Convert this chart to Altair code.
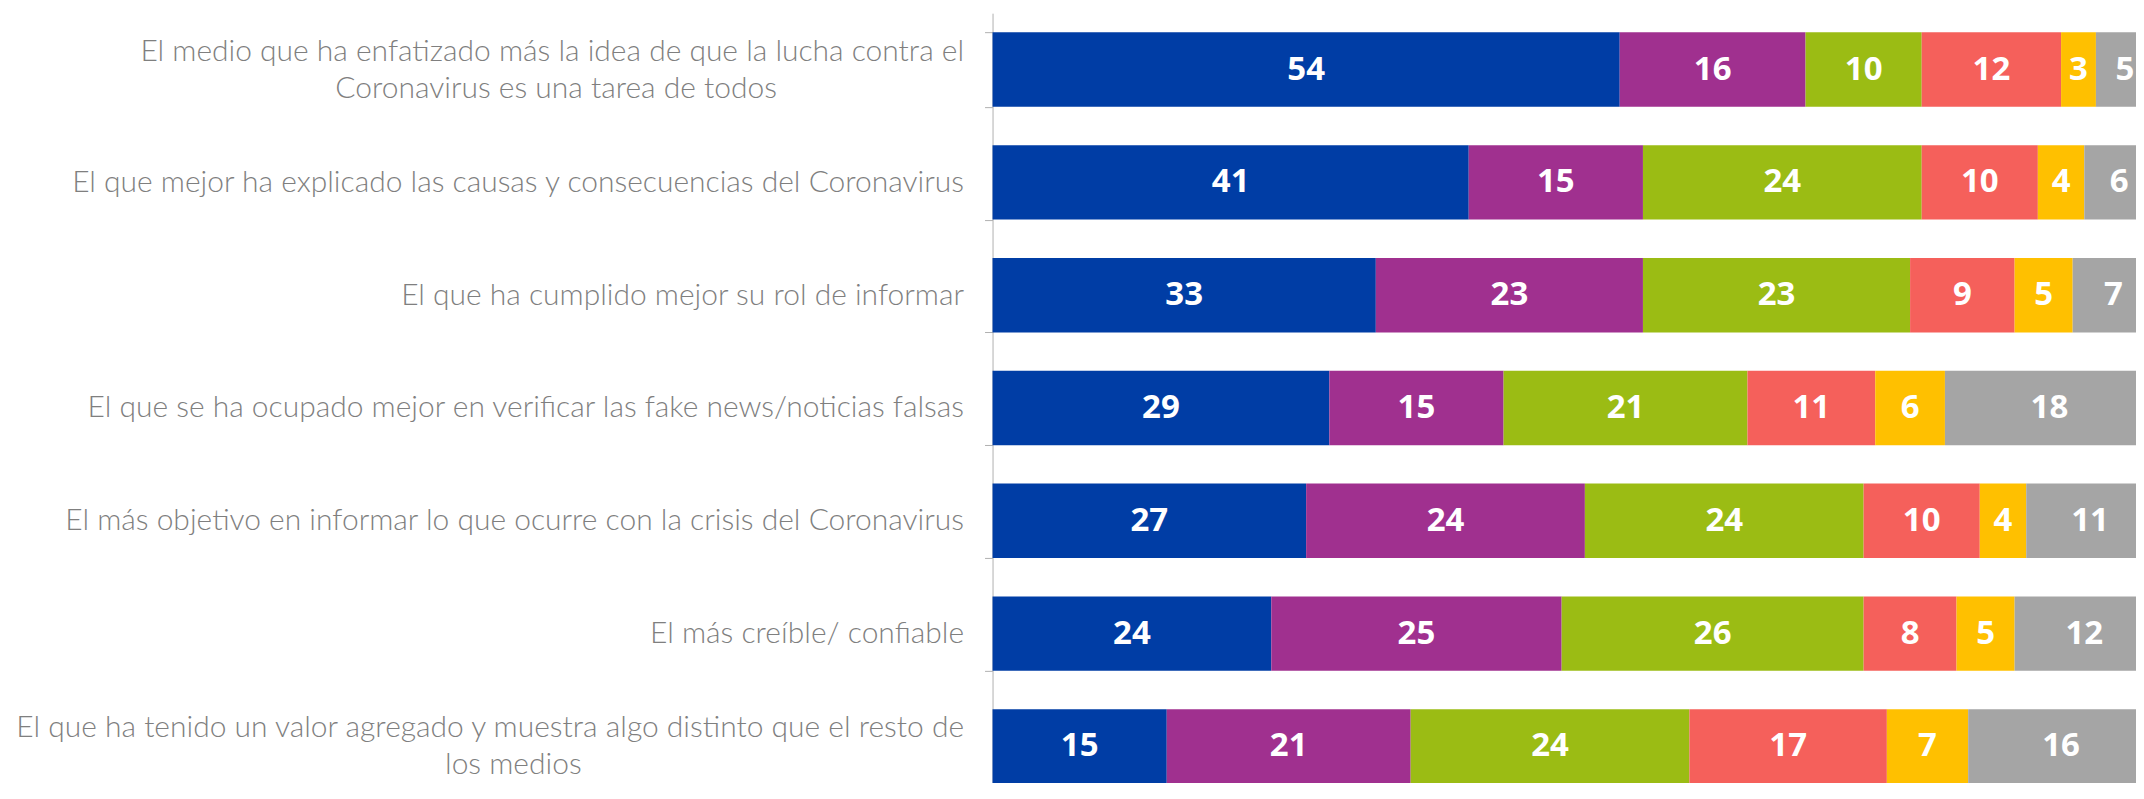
import altair as alt
import pandas as pd

categories = [
    "El medio que ha enfatizado más la idea de que la lucha contra el\nCoronavirus es una tarea de todos",
    "El que mejor ha explicado las causas y consecuencias del Coronavirus",
    "El que ha cumplido mejor su rol de informar",
    "El que se ha ocupado mejor en verificar las fake news/noticias falsas",
    "El más objetivo en informar lo que ocurre con la crisis del Coronavirus",
    "El más creíble/ confiable",
    "El que ha tenido un valor agregado y muestra algo distinto que el resto de\nlos medios",
]
series_names = ["Serie 1", "Serie 2", "Serie 3", "Serie 4", "Serie 5", "Serie 6"]
serie_1 = [54, 41, 33, 29, 27, 24, 15]
serie_2 = [16, 15, 23, 15, 24, 25, 21]
serie_3 = [10, 24, 23, 21, 24, 26, 24]
serie_4 = [12, 10, 9, 11, 10, 8, 17]
serie_5 = [3, 4, 5, 6, 4, 5, 7]
serie_6 = [5, 6, 7, 18, 11, 12, 16]
colors = ["#003da5", "#a0308f", "#9bbc14", "#f5605b", "#ffc000", "#a5a5a5"]

all_series = [serie_1, serie_2, serie_3, serie_4, serie_5, serie_6]
rows = []
for si, (name, vals) in enumerate(zip(series_names, all_series)):
    for ci, cat in enumerate(categories):
        rows.append({"cat": cat, "serie": name, "order": si, "value": vals[ci]})
df = pd.DataFrame(rows)

NBSP = "\u00a0"
ZWSP = "\u200b"
parts = "split(datum.label, '\\n')"
# second line of a wrapped label is centred under the first one (padded with
# non-breaking spaces, closed with a zero-width char so the padding is kept)
label_expr = (
    f"length({parts}) > 1 ? "
    f"[{parts}[0], pad({parts}[1], length({parts}[1]) + round((length({parts}[0]) - length({parts}[1])) * 0.74), '{NBSP}') + '{ZWSP}']"
    f" : datum.label"
)

y_enc = alt.Y(
    "cat:N",
    sort=categories,
    title=None,
    scale=alt.Scale(range=[0, 790], paddingInner=0.34, paddingOuter=0.17),
    axis=alt.Axis(
        labelExpr=label_expr,
        tickBand="extent",
        tickSize=8,
        labelPadding=21,
        labelLimit=3000,
        labelFont="Lato",
        labelFontWeight=300,
        labelFontSize=30,
        labelColor="#7f7f7f",
        labelLineHeight=37,
        labelOffset={"condition": {"test": "indexof(datum.label, '\\n') >= 0", "value": -18.5}, "value": 0},
        domainColor="#b0b0b0",
        tickColor="#b0b0b0",
        grid=False,
    ),
)

base = alt.Chart(df).transform_stack(
    stack="value", groupby=["cat"], as_=["x0", "x1"], sort=[alt.SortField("order")]
).transform_calculate(mid="(datum.x0 + datum.x1) / 2")

xscale = alt.Scale(domain=[0, 100], range=[0, 1162])

bars = base.mark_bar().encode(
    y=y_enc,
    x=alt.X("x0:Q", scale=xscale, axis=None),
    x2="x1:Q",
    color=alt.Color("serie:N", scale=alt.Scale(domain=series_names, range=colors), legend=None),
)

labels = base.mark_text(
    font="Open Sans", fontWeight="bold", fontSize=33, color="white", baseline="middle", align="center"
).encode(
    y=alt.Y("cat:N", sort=categories),
    x=alt.X("mid:Q", scale=xscale, axis=None),
    text="value:Q",
)

chart = (
    alt.layer(bars, labels)
    .properties(
        width=1144,
        height=770,
        autosize=alt.AutoSizeParams(type="none"),
        padding={"left": 985, "top": 5, "right": 0, "bottom": 0},
    )
    .configure_view(stroke=None)
)

chart.save("out.html", embed_options={"renderer": "svg", "actions": False})
